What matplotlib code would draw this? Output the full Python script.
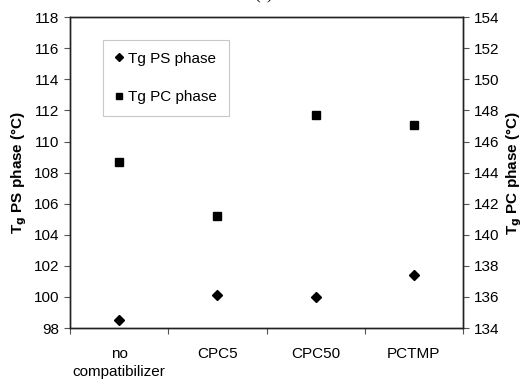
import matplotlib.pyplot as plt
from matplotlib.ticker import FixedLocator, NullFormatter, MultipleLocator

plt.rcParams['font.family'] = ['Liberation Sans', 'DejaVu Sans']

samples = ["no\ncompatibilizer", "CPC5", "CPC50", "PCTMP"]
tg_ps = [98.5, 100.1, 100.0, 101.4]
tg_pc = [144.7, 141.2, 147.7, 147.05]

x = list(range(len(samples)))

fig = plt.figure(figsize=(5.28, 3.81), dpi=100)
ax = fig.add_axes([0.1326, 0.139, 0.7444, 0.816])
ax2 = ax.twinx()

p1, = ax.plot(x, tg_ps, linestyle="none", marker="D", markersize=5.5,
              color="black", label="Tg PS phase")
p2, = ax2.plot(x, tg_pc, linestyle="none", marker="s", markersize=5.5,
               color="black", label="Tg PC phase")

ax.set_xlim(-0.5, len(samples) - 0.5)
ax.set_ylim(98, 118)
ax2.set_ylim(134, 154)
ax.yaxis.set_major_locator(MultipleLocator(2))
ax2.yaxis.set_major_locator(MultipleLocator(2))

# category labels centred, ticks on the boundaries
ax.xaxis.set_major_locator(FixedLocator([i - 0.5 for i in range(len(samples) + 1)]))
ax.xaxis.set_major_formatter(NullFormatter())
ax.xaxis.set_minor_locator(FixedLocator(x))
ax.set_xticklabels(samples, minor=True, linespacing=1.3)
ax.tick_params(axis="x", which="minor", length=0, pad=14, labelsize=11)
ax.tick_params(axis="x", which="major", length=4, color="#555555")
ax.tick_params(axis="y", labelsize=11, length=4, color="#555555")
ax2.tick_params(axis="y", labelsize=11, length=4, color="#555555")

for a in (ax, ax2):
    for s in a.spines.values():
        s.set_color("#222222")
        s.set_linewidth(1.0)

ax.set_ylabel("T$_\\mathbf{g}$ PS phase (\u00b0C)", fontsize=11, fontweight="bold", labelpad=4)
ax2.set_ylabel("T$_\\mathbf{g}$ PC phase (\u00b0C)", fontsize=11, fontweight="bold",
               rotation=90, labelpad=4)

leg = ax.legend(handles=[p1, p2], loc="upper left", bbox_to_anchor=(0.084, 0.926),
                borderaxespad=0, fontsize=11, frameon=True, fancybox=False,
                handlelength=0.6, handletextpad=0.3, labelspacing=1.6,
                borderpad=0.75, markerscale=0.8)
leg.get_frame().set_edgecolor("#bbbbbb")
leg.get_frame().set_linewidth(0.8)

fig.text(0.5, 1.012, "(c)", ha="center", va="center", fontsize=12,
         family="Liberation Serif")

fig.savefig("out.png", dpi=100)
